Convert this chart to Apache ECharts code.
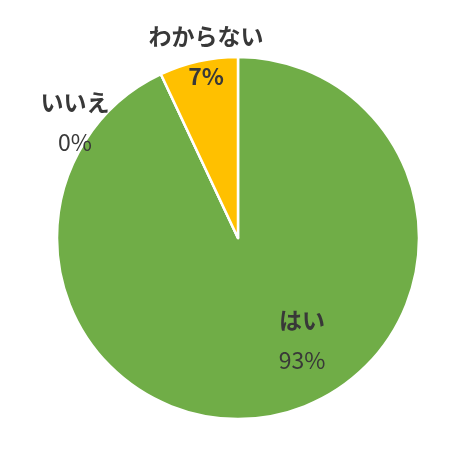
<!DOCTYPE html>
<html>
<head>
<meta charset="utf-8">
<script src="https://cdn.jsdelivr.net/npm/echarts@6/dist/echarts.min.js"></script>
<style>
  html, body { margin: 0; padding: 0; background: #fff; }
  #chart { width: 474px; height: 473px; }
</style>
</head>
<body>
<div id="chart"></div>
<script>
// values
var names = ['はい', 'いいえ', 'わからない'];
var values = [93, 0, 7];
var colors = ['#70ad47', '#a5a5a5', '#ffc000'];

// where each label sits (centre of the two-line block)
var labelPos = [[302, 340], [75, 122], [206, 56]];
var labelBold = [false, false, true];

var chart = echarts.init(document.getElementById('chart'));

var data = names.map(function (n, i) {
  return {
    name: n,
    value: values[i],
    itemStyle: { color: colors[i] },
    label: {
      rich: {
        n: { fontSize: 23, fontWeight: 'bold', color: '#383838', lineHeight: 40, fontFamily: 'Noto Sans CJK JP' },
        p: { fontSize: 23, fontWeight: labelBold[i] ? 'bold' : 'normal', color: '#383838', lineHeight: 40, fontFamily: 'Noto Sans CJK JP' }
      }
    }
  };
});

var option = {
  animation: false,
  series: [
    {
      type: 'pie',
      center: [238, 238],
      radius: [0, 181],
      startAngle: 90,
      clockwise: true,
      avoidLabelOverlap: false,
      itemStyle: { borderColor: '#fff', borderWidth: 2.5 },
      label: {
        show: true,
        position: 'inside',
        formatter: function (p) {
          return '{n|' + p.name + '}\n{p|' + p.value + '%}';
        }
      },
      labelLine: { show: false },
      labelLayout: function (params) {
        var pos = labelPos[params.dataIndex];
        return { x: pos[0], y: pos[1], align: 'center', verticalAlign: 'middle' };
      },
      data: data
    }
  ]
};

chart.setOption(option);
</script>
</body>
</html>
